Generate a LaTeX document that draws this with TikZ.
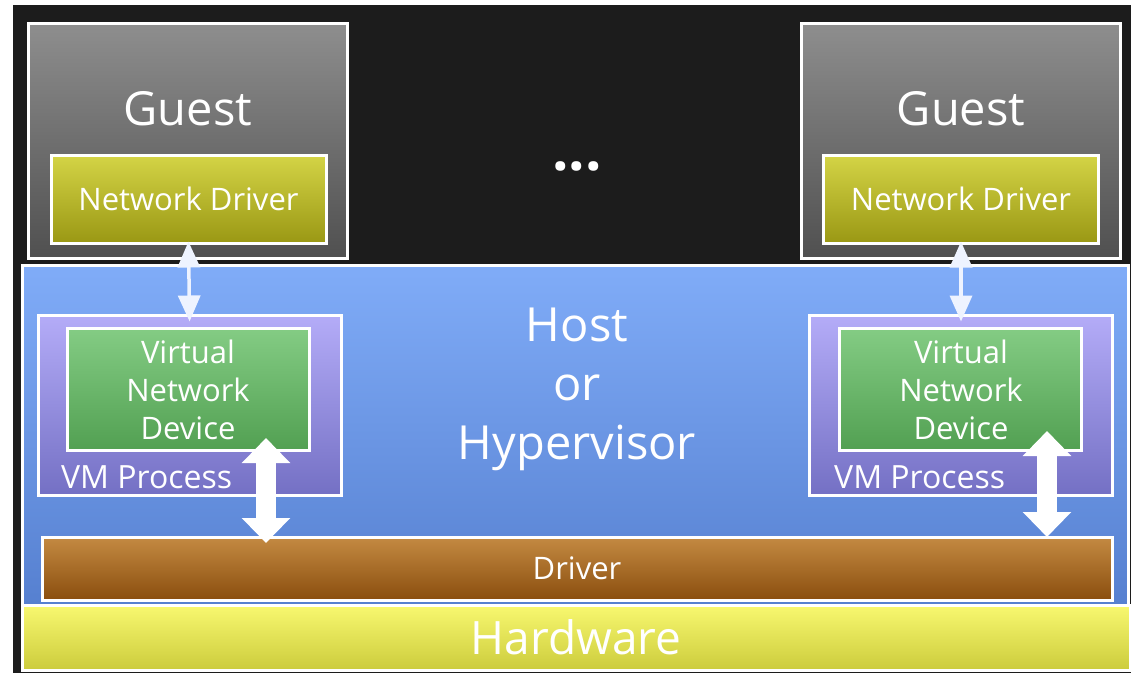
\documentclass[tikz,border=0pt]{standalone}
\usepackage{fontspec}
\setmainfont{Open Sans}
\usetikzlibrary{arrows.meta}

\definecolor{panel}{HTML}{1C1C1C}
\definecolor{guestT}{HTML}{8E8E8E}
\definecolor{guestB}{HTML}{505050}
\definecolor{ndT}{HTML}{D4D446}
\definecolor{ndB}{HTML}{9A9814}
\definecolor{hostT}{HTML}{80ACF8}
\definecolor{hostB}{HTML}{5680D0}
\definecolor{vmT}{HTML}{B4ACF8}
\definecolor{vmB}{HTML}{7470C4}
\definecolor{vndT}{HTML}{84CC84}
\definecolor{vndB}{HTML}{52A052}
\definecolor{drvT}{HTML}{C48A42}
\definecolor{drvB}{HTML}{8A4E0E}
\definecolor{hwT}{HTML}{F8F870}
\definecolor{hwB}{HTML}{CCCC3C}
\definecolor{linkc}{HTML}{EEF3FF}

\tikzset{
  box/.style={draw=white, line width=3pt, inner sep=0pt, text=white},
  guestbox/.style={box, top color=guestT, bottom color=guestB,
    minimum width=319, minimum height=235},
  netdrv/.style={box, top color=ndT, bottom color=ndB,
    minimum width=275, minimum height=88,
    font=\fontsize{31}{36}\selectfont},
  vmbox/.style={box, top color=vmT, bottom color=vmB,
    minimum width=303, minimum height=180},
  vndbox/.style={box, top color=vndT, bottom color=vndB,
    minimum width=242, minimum height=122},
  bigtext/.style={text=white, inner sep=0pt, font=\fontsize{47}{59}\selectfont},
  midtext/.style={text=white, inner sep=0pt, font=\fontsize{31}{38}\selectfont, align=center},
  thinlink/.style={draw=linkc, line width=3.5pt,
    {Triangle[width=22pt,length=26pt]}-{Triangle[width=22pt,length=26pt]}},
  thicklink/.style={draw=white, line width=20pt,
    {Triangle[width=47pt,length=25pt]}-{Triangle[width=47pt,length=25pt]}},
}

\begin{document}
\begin{tikzpicture}[x=1pt, y=-1pt]
  % page and dark panel
  \fill[white] (0,0) rectangle (1132,675);
  \fill[panel] (13,5) rectangle (1131,673);

  % guest machines
  \node[guestbox] (guestL) at (187.5,140.5) {};
  \node[guestbox] (guestR) at (960.5,140.5) {};
  \node[bigtext] (guestLtxt) at (188,109) {Guest};
  \node[bigtext] (guestRtxt) at (961,109) {Guest};
  \node[netdrv] (ndL) at (188.5,199) {Network Driver};
  \node[netdrv] (ndR) at (961,199) {Network Driver};

  % ellipsis between the guests
  \node[text=white, inner sep=0pt, anchor=base,
        font=\bfseries\fontsize{58}{60}\selectfont] (dots) at (577,170) {...};

  % host / hypervisor layer
  \node[box, top color=hostT, bottom color=hostB,
        minimum width=1106, minimum height=340] (host) at (575,435) {};
  \node[bigtext, align=center] (hosttxt) at (577,389) {Host\\or\\Hypervisor};

  % VM processes with their virtual devices
  \node[vmbox] (vmL) at (189.5,405) {};
  \node[vmbox] (vmR) at (961,405) {};
  \node[vndbox] (vndL) at (188,389) {};
  \node[vndbox] (vndR) at (960.5,389) {};
  \node[midtext] (vndLtxt) at (188,390) {Virtual\\Network\\Device};
  \node[midtext] (vndRtxt) at (961,390) {Virtual\\Network\\Device};
  \node[midtext, anchor=west, font=\fontsize{32}{38}\selectfont] (vmLtxt) at (61,477) {VM Process};
  \node[midtext, anchor=west, font=\fontsize{32}{38}\selectfont] (vmRtxt) at (834,477) {VM Process};

  % physical driver and hardware
  \node[box, top color=drvT, bottom color=drvB,
        minimum width=1070, minimum height=63,
        font=\fontsize{31}{36}\selectfont] (drv) at (577,568.5) {Driver};
  \node[box, top color=hwT, bottom color=hwB,
        minimum width=1108, minimum height=65,
        font=\fontsize{46}{52}\selectfont] (hw) at (576,637.5) {Hardware};

  % guest driver <-> virtual device
  \draw[thinlink, shorten <=-3pt, shorten >=-8pt] (ndL.south) -- (vmL.north);
  \draw[thinlink, shorten <=-3pt, shorten >=-8pt] (ndR.south) -- (vmR.north);

  % virtual device <-> host driver
  \coordinate (vndLport) at (266,438);
  \coordinate (drvLport) at (266,543);
  \coordinate (vndRport) at (1047,431);
  \coordinate (drvRport) at (1047,537);
  \draw[thicklink] (vndLport) -- (drvLport);
  \draw[thicklink] (vndRport) -- (drvRport);
\end{tikzpicture}
\end{document}
